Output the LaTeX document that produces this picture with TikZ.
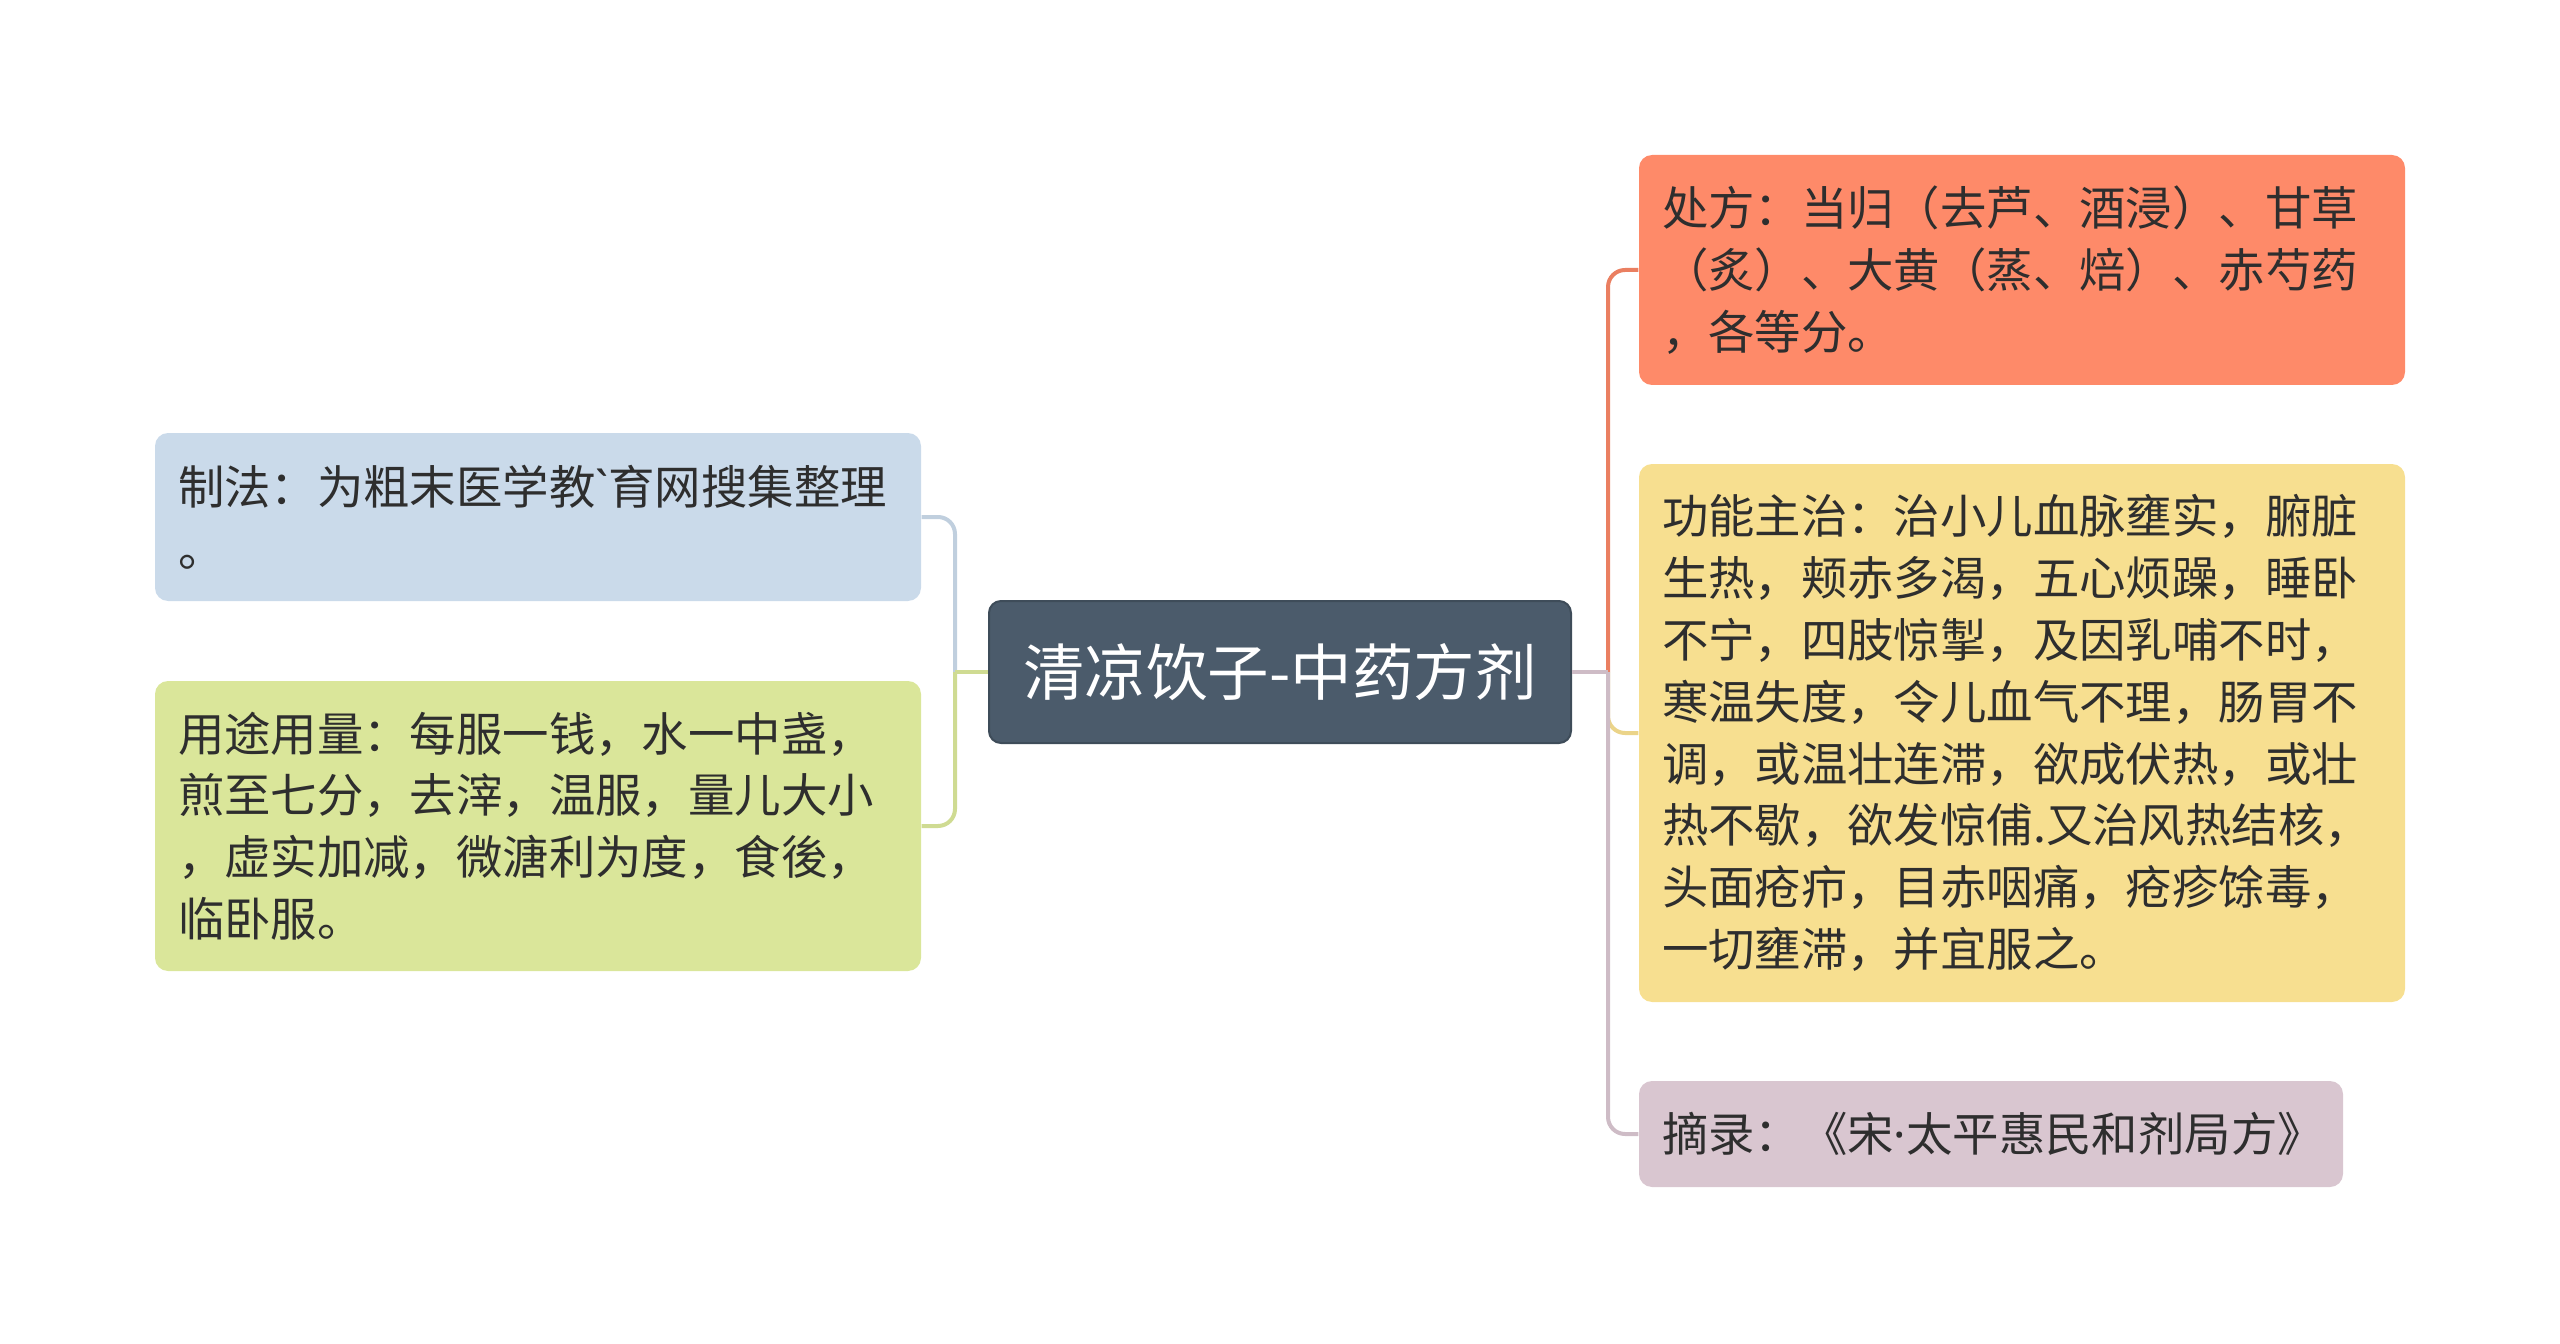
\documentclass[tikz,border=0pt]{standalone}
\usepackage{fontspec}
\newfontfamily\cjkfont{Noto Sans CJK SC}
\newfontfamily\latinfont{Noto Sans}
\usetikzlibrary{positioning}

\definecolor{rootfill}{HTML}{4B5B6B}
\definecolor{rootline}{HTML}{3E4C59}
\definecolor{bluefill}{HTML}{CADAEA}
\definecolor{greenfill}{HTML}{DAE69A}
\definecolor{orangefill}{HTML}{FE8A69}
\definecolor{yellowfill}{HTML}{F7DF90}
\definecolor{pinkfill}{HTML}{D9C6D0}
\definecolor{textdark}{HTML}{2E2E2E}

\tikzset{
    root/.style={fill=rootfill, draw=rootline, line width=0.2mm, rounded corners=1.2mm,
        text=white, minimum width=58.2mm, minimum height=14.2mm, inner sep=0pt,
        font=\cjkfont\fontsize{17.5pt}{21pt}\selectfont},
    topic/.style={rounded corners=1.3mm, inner xsep=2.3mm, inner ysep=0pt,
        text=textdark, align=left, text width=72mm,
        font=\cjkfont\fontsize{13.2pt}{17.6pt}\selectfont},
    link/.style={line width=0.4mm, rounded corners=1.7mm},
}

\begin{document}
\begin{tikzpicture}[x=0.1mm, y=-0.1mm]
    \useasboundingbox (0,0) rectangle (2560,1344);

    % centre
    \node[root] (root) at (1280,672) {清凉饮子-中药方剂};

    % left side
    \node[topic, fill=bluefill, minimum height=16.8mm] (zhifa) at (538,517)
        {制法：为粗末医学教{\latinfont`}育网搜集整理\\。};
    \node[topic, fill=greenfill, minimum height=29mm] (yongfa) at (538,826)
        {用途用量：每服一钱，水一中盏，\\煎至七分，去滓，温服，量儿大小\\，虚实加减，微溏利为度，食後，\\临卧服。};

    % right side
    \node[topic, fill=orangefill, minimum height=23mm] (chufang) at (2022,270)
        {处方：当归（去芦、酒浸）、甘草\\（炙）、大黄（蒸、焙）、赤芍药\\，各等分。};
    \node[topic, fill=yellowfill, minimum height=53.8mm] (gongneng) at (2022,733)
        {功能主治：治小儿血脉壅实，腑脏\\生热，颊赤多渴，五心烦躁，睡卧\\不宁，四肢惊掣，及因乳哺不时，\\寒温失度，令儿血气不理，肠胃不\\调，或温壮连滞，欲成伏热，或壮\\热不歇，欲发惊俌.又治风热结核，\\头面疮疖，目赤咽痛，疮疹馀毒，\\一切壅滞，并宜服之。};
    \node[topic, fill=pinkfill, text width=65.8mm, minimum height=10.6mm] (zhailu) at (1991,1134)
        {摘录：《宋{\latinfont·}太平惠民和剂局方》};

    % trunks
    \coordinate (ltrunk) at (955,672);
    \coordinate (rtrunk) at (1608,672);

    % connectors, left
    \draw[link, bluefill!95!black] (ltrunk) |- (zhifa.east);
    \draw[link, greenfill!95!black] (ltrunk) |- (yongfa.east);
    \draw[link, greenfill!95!black] (root.west) -- (ltrunk);

    % connectors, right
    \draw[link, orangefill!92!black] (rtrunk) |- (chufang.west);
    \draw[link, yellowfill!95!black] (rtrunk) |- (gongneng.west);
    \draw[link, pinkfill!95!black] (rtrunk) |- (zhailu.west);
    \draw[link, pinkfill!95!black] (root.east) -- (rtrunk);
\end{tikzpicture}
\end{document}
